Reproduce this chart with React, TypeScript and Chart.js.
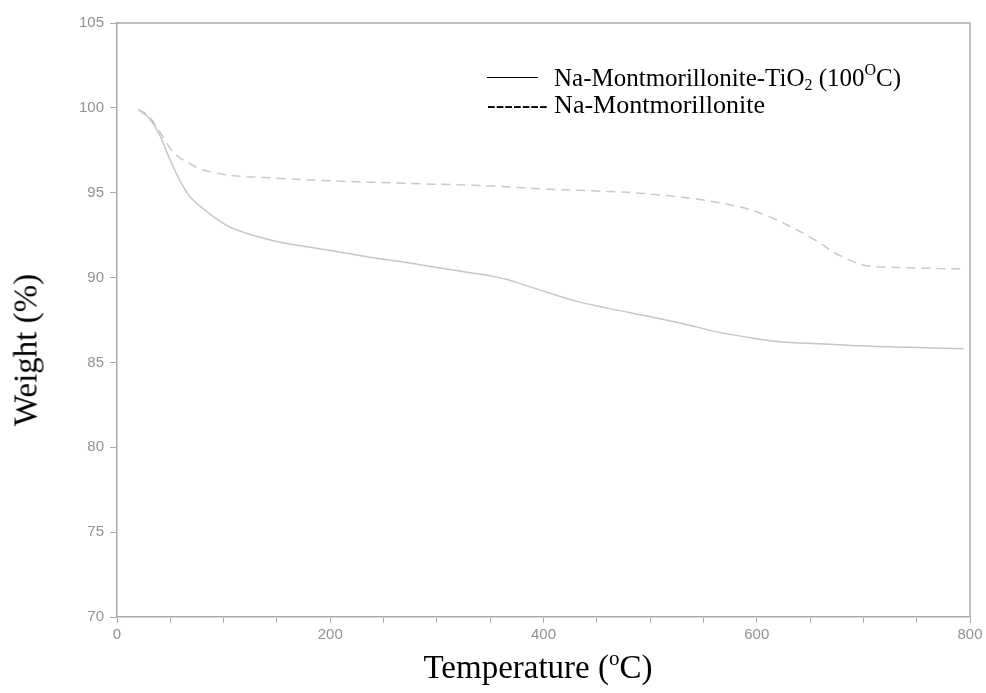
import React, { useEffect, useRef } from "react";
import { Chart, registerables } from "chart.js";

Chart.register(...registerables);

// Na-Montmorillonite-TiO2 (100 °C) – solid curve
const tempTiO2 = [20, 30, 40, 50, 60, 68, 80, 90, 105, 122, 145, 169, 200, 237, 270, 300, 330, 350, 365, 380, 400, 425, 460, 500, 530, 563, 600, 625, 660, 688, 740, 794];
const weightTiO2 = [99.9, 99.4, 98.4, 96.9, 95.6, 94.8, 94.1, 93.6, 93.0, 92.6, 92.2, 91.9, 91.6, 91.2, 90.9, 90.6, 90.3, 90.1, 89.9, 89.6, 89.2, 88.7, 88.2, 87.7, 87.3, 86.8, 86.4, 86.2, 86.1, 86.0, 85.9, 85.8];

// Na-Montmorillonite – dashed curve
const tempNa = [20, 30, 40, 50, 58, 66, 78, 90, 110, 137, 180, 247, 300, 350, 406, 450, 484, 520, 547, 570, 594, 615, 641, 660, 672, 688, 703, 730, 760, 794];
const weightNa = [99.9, 99.5, 98.6, 97.6, 97.1, 96.8, 96.4, 96.2, 96.0, 95.9, 95.75, 95.6, 95.5, 95.4, 95.2, 95.1, 95.0, 94.8, 94.6, 94.35, 94.0, 93.5, 92.7, 92.0, 91.5, 91.0, 90.7, 90.6, 90.55, 90.5];

const xMin = 0;
const xMax = 800;
const yMin = 70;
const yMax = 105;
const xLabelEvery = 200;
const xTickStep = 50;
const yTickStep = 5;

const legendLabels = ["Na-Montmorillonite-TiO", "Na-Montmorillonite"];

const frameColor = "#aaaaaa";
const tickColor = "#929292";

const borderPlugin = {
  id: "frameBox",
  afterDraw(chart: any) {
    const { ctx, chartArea } = chart;
    ctx.save();
    ctx.strokeStyle = frameColor;
    ctx.lineWidth = 1.5;
    ctx.beginPath();
    ctx.moveTo(chartArea.left, chartArea.top);
    ctx.lineTo(chartArea.right, chartArea.top);
    ctx.lineTo(chartArea.right, chartArea.bottom);
    ctx.stroke();
    ctx.restore();
  },
};

export default function App() {
  const ref = useRef<HTMLCanvasElement>(null);

  useEffect(() => {
    document.body.style.margin = "0";
    const canvas = ref.current!;
    const toPts = (xs: number[], ys: number[]) => xs.map((x, i) => ({ x, y: ys[i] }));
    const chart = new Chart(canvas, {
      type: "scatter",
      data: {
        datasets: [
          {
            label: legendLabels[0],
            data: toPts(tempTiO2, weightTiO2),
            showLine: true,
            borderColor: "#c6c6c6",
            borderWidth: 1.5,
            pointRadius: 0,
            cubicInterpolationMode: "monotone",
          },
          {
            label: legendLabels[1],
            data: toPts(tempNa, weightNa),
            showLine: true,
            borderColor: "#c9c9c9",
            borderWidth: 1.5,
            borderDash: [9, 6],
            pointRadius: 0,
            cubicInterpolationMode: "monotone",
          },
        ],
      },
      options: {
        animation: false,
        responsive: false,
        maintainAspectRatio: false,
        layout: { padding: { top: 23, right: 16, left: 0, bottom: 0 } },
        plugins: { legend: { display: false }, tooltip: { enabled: false } },
        scales: {
          x: {
            type: "linear",
            min: xMin,
            max: xMax,
            afterFit: (s: any) => {
              s.height = 76;
            },
            ticks: {
              stepSize: xTickStep,
              autoSkip: false,
              maxRotation: 0,
              color: tickColor,
              padding: 3,
              font: { family: "Liberation Sans", size: 15 },
              callback: (v: any) => (Number(v) % xLabelEvery === 0 ? String(v) : ""),
            },
            grid: { drawOnChartArea: false, drawTicks: true, tickLength: 6, color: frameColor },
            border: { color: frameColor, width: 1.5 },
          },
          y: {
            type: "linear",
            min: yMin,
            max: yMax,
            afterFit: (s: any) => {
              s.width = 117;
            },
            ticks: {
              stepSize: yTickStep,
              color: tickColor,
              padding: 6,
              font: { family: "Liberation Sans", size: 15 },
            },
            grid: { drawOnChartArea: false, drawTicks: true, tickLength: 7, color: frameColor },
            border: { color: frameColor, width: 1.5 },
          },
        },
      },
      plugins: [borderPlugin],
    });
    return () => chart.destroy();
  }, []);

  const serif = "'Liberation Serif', 'Times New Roman', serif";

  return (
    <div style={{ position: "relative", width: 986, height: 693, background: "#fff" }}>
      <canvas ref={ref} width={986} height={693} style={{ display: "block", width: 986, height: 693 }} />
      <div style={{ position: "absolute", left: 487, top: 77, width: 51, height: 0, borderTop: "1.5px solid #000" }} />
      <div
        style={{
          position: "absolute",
          left: 554,
          top: 64,
          fontFamily: serif,
          fontSize: 25,
          color: "#000",
          lineHeight: "27px",
          whiteSpace: "nowrap",
        }}
      >
        {legendLabels[0]}
        <sub style={{ fontSize: 16, verticalAlign: "-4px", lineHeight: 0 }}>2</sub> (100
        <sup style={{ fontSize: 16, verticalAlign: "11px", lineHeight: 0 }}>O</sup>C)
      </div>
      <div
        style={{
          position: "absolute",
          left: 487,
          top: 91,
          fontFamily: serif,
          fontSize: 26,
          color: "#000",
          lineHeight: "27px",
          whiteSpace: "nowrap",
        }}
      >
        <span>-------</span> <span>{legendLabels[1]}</span>
      </div>
      <div
        style={{
          position: "absolute",
          left: 538,
          top: 667,
          transform: "translate(-50%, -50%)",
          fontFamily: serif,
          fontSize: 33,
          color: "#000",
          whiteSpace: "nowrap",
        }}
      >
        Temperature (<sup style={{ fontSize: 21, verticalAlign: "13px", lineHeight: 0 }}>o</sup>C)
      </div>
      <div
        style={{
          position: "absolute",
          left: 26,
          top: 350,
          transform: "translate(-50%, -50%) rotate(-90deg)",
          fontFamily: serif,
          fontSize: 33,
          color: "#000",
          whiteSpace: "nowrap",
        }}
      >
        Weight (%)
      </div>
    </div>
  );
}
